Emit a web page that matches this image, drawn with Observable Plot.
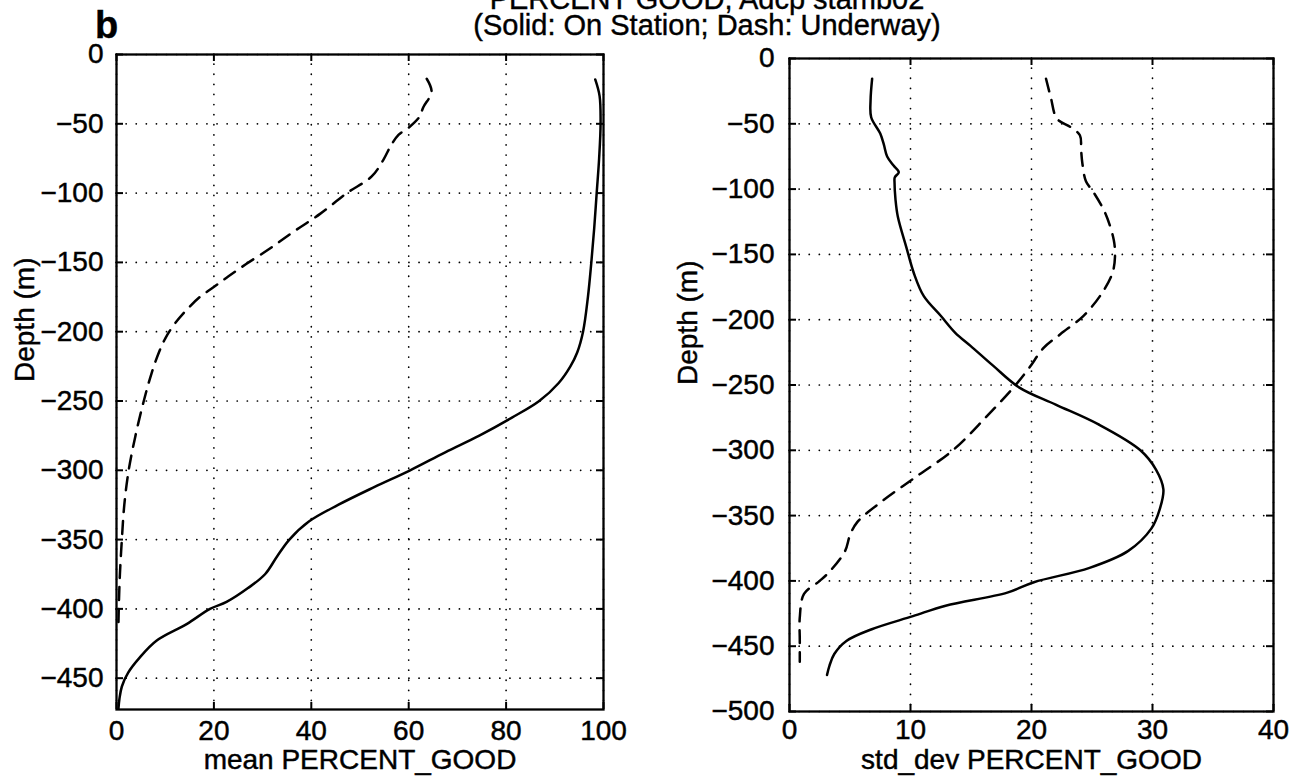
<!DOCTYPE html>
<html><head><meta charset="utf-8">
<script src="https://cdn.jsdelivr.net/npm/d3@7"></script>
<script src="https://cdn.jsdelivr.net/npm/@observablehq/plot@0.6"></script>
<style>
html,body{margin:0;padding:0;background:#fff;overflow:hidden}
#fig{position:relative;width:1299px;height:782px;overflow:hidden;font-family:"Liberation Sans",Arial,Helvetica,sans-serif;color:#000;background:#fff}
.plot{position:absolute;top:0}
.plot text{stroke:#000;stroke-width:0.45px}
.txt{position:absolute;white-space:nowrap;z-index:2;color:#000;-webkit-text-stroke:0.4px #000}
</style></head>
<body><div id="fig"></div>
<script>
// ---- text ----
const titleText = "PERCENT GOOD, Adcp stamb02";
const subtitleText = "(Solid: On Station; Dash: Underway)";
const panelLetter = "b";
const yLabel = "Depth (m)";
const xLabelMean = "mean PERCENT_GOOD";
const xLabelStd = "std_dev PERCENT_GOOD";

// ---- ticks ----
const xTicksMean = [0, 20, 40, 60, 80, 100];
const yTicksMean = [0, -50, -100, -150, -200, -250, -300, -350, -400, -450];
const xTicksStd = [0, 10, 20, 30, 40];
const yTicksStd = [0, -50, -100, -150, -200, -250, -300, -350, -400, -450, -500];

// ---- left panel: mean PERCENT_GOOD ----
const meanStationDepth = [-18, -30, -50, -75, -100, -125, -150, -175, -200, -215, -225, -237, -250, -262, -275, -287, -300, -312, -325, -337, -350, -362, -375, -385, -395, -400, -411, -423, -435, -446, -456, -465, -472];
const meanStationValue = [98.3, 99.2, 99.4, 99.1, 98.6, 98.1, 97.5, 96.8, 95.8, 94.6, 93.2, 90.8, 86.8, 81.2, 74.5, 67.5, 60.3, 53, 45.5, 39.5, 35.5, 33, 30.5, 27, 22.6, 19.2, 14.4, 8.2, 4.8, 2.4, 1.1, 0.6, 0.4];
const meanUnderwayDepth = [-17.5, -27, -38, -45, -52.5, -58, -66, -76, -88, -100, -115, -128, -140, -151, -160, -168, -175, -185, -195, -205, -215, -230, -250, -275, -300, -325, -350, -375, -395, -410];
const meanUnderwayValue = [63.7, 64.7, 63.0, 62.2, 60.1, 57.9, 56.3, 54.8, 52.4, 47.3, 41.8, 36.3, 31.5, 26.7, 23, 19.9, 17.1, 14.2, 11.8, 10, 8.7, 7.2, 5.6, 3.9, 2.5, 1.6, 1.1, 0.7, 0.5, 0.4];

// ---- right panel: std_dev PERCENT_GOOD ----
const stdStationDepth = [-15.5, -32, -45, -57.5, -66, -75, -82, -87, -91, -95, -108, -121, -145, -165, -182, -197, -210, -220, -235, -252, -265, -280, -300, -315, -330, -345, -360, -377, -390, -401, -409, -419, -427, -437, -446, -456, -465, -472];
const stdStationValue = [6.83, 6.7, 6.75, 7.5, 7.8, 8.07, 8.6, 9.03, 8.7, 8.68, 8.76, 8.95, 9.67, 10.3, 11.1, 12.5, 13.7, 14.96, 16.8, 19.0, 22.0, 25.5, 29.0, 30.3, 30.9, 30.6, 29.9, 28.0, 24.8, 20.2, 18.0, 12.9, 10.2, 6.8, 4.7, 3.7, 3.3, 3.1];
const stdUnderwayDepth = [-15.5, -30, -46, -52.4, -58.8, -70, -80, -94, -102, -118.5, -139, -151.7, -164, -180, -197, -211, -221.6, -237, -252, -275, -300, -320, -340, -355, -365, -377, -392, -400, -410, -428, -445, -462];
const stdUnderwayValue = [21.2, 21.6, 22.1, 23.2, 24.0, 24.1, 24.2, 24.5, 25.1, 26.1, 26.8, 26.9, 26.7, 25.8, 24.3, 22.4, 21.0, 19.8, 18.5, 16.2, 13.5, 10.5, 7.5, 5.6, 5.0, 4.6, 3.4, 2.5, 1.2, 0.85, 0.85, 0.85];

const rows = (depth, value) => depth.map((d, i) => ({depth: d, value: value[i]}));

const FONT = "'Liberation Sans', Arial, Helvetica, sans-serif";

function panel({width, ml, mr, mt, mb, xDomain, yDomain, xTicks, yTicks, station, underway, xLabel, xLabelDy, yLabelDx, yPad, xPad}) {
  const fw = width - ml - mr, fh = 782 - mt - mb, tk = 7;
  const grid = {stroke: "black", strokeOpacity: 1, strokeWidth: 1.7, strokeDasharray: "0.1,10", strokeLinecap: "round"};
  return Plot.plot({
    width, height: 782,
    marginLeft: ml, marginRight: mr, marginTop: mt, marginBottom: mb,
    style: {fontFamily: FONT, fontSize: "28px", color: "black", background: "transparent", overflow: "visible"},
    x: {domain: xDomain, ticks: xTicks, tickSize: 0, tickPadding: xPad, label: null},
    y: {domain: yDomain, ticks: yTicks, tickSize: 0, tickPadding: yPad, label: null},
    marks: [
      Plot.gridX(xTicks, grid),
      Plot.gridY(yTicks, grid),
      Plot.line(station, {x: "value", y: "depth", stroke: "black", strokeWidth: 2.5, curve: "catmull-rom"}),
      Plot.line(underway, {x: "value", y: "depth", stroke: "black", strokeWidth: 2.5, strokeDasharray: "13,9", curve: "catmull-rom"}),
      Plot.tickX(xTicks, {x: d => d, insetTop: fh - tk, stroke: "black", strokeWidth: 2}),
      Plot.tickX(xTicks, {x: d => d, insetBottom: fh - tk, stroke: "black", strokeWidth: 2}),
      Plot.tickY(yTicks, {y: d => d, insetRight: fw - tk, stroke: "black", strokeWidth: 2}),
      Plot.tickY(yTicks, {y: d => d, insetLeft: fw - tk, stroke: "black", strokeWidth: 2}),
      Plot.frame({stroke: "black", strokeWidth: 2.3}),
      Plot.text([xLabel], {frameAnchor: "bottom", dy: xLabelDy, fontSize: 28, fill: "black"}),
      Plot.text([yLabel], {frameAnchor: "left", rotate: -90, dx: yLabelDx, fontSize: 28, fill: "black"})
    ]
  });
}

const fig = document.getElementById("fig");

const left = panel({
  width: 650, ml: 116, mr: 47, mt: 54, mb: 73,
  xDomain: [0, 100], yDomain: [-472.6, 0],
  xTicks: xTicksMean, yTicks: yTicksMean,
  station: rows(meanStationDepth, meanStationValue),
  underway: rows(meanUnderwayDepth, meanUnderwayValue),
  xLabel: xLabelMean, xLabelDy: 59, yLabelDx: -91, yPad: 13, xPad: 11
});
left.classList.add("plot");
left.style.left = "0px";
fig.appendChild(left);

const right = panel({
  width: 649, ml: 139, mr: 26, mt: 58, mb: 71,
  xDomain: [0, 40], yDomain: [-500, 0],
  xTicks: xTicksStd, yTicks: yTicksStd,
  station: rows(stdStationDepth, stdStationValue),
  underway: rows(stdUnderwayDepth, stdUnderwayValue),
  xLabel: xLabelStd, xLabelDy: 57, yLabelDx: -101, yPad: 15, xPad: 8
});
right.classList.add("plot");
right.style.left = "650px";
fig.appendChild(right);

function addText(str, css) {
  const d = document.createElement("div");
  d.className = "txt";
  d.textContent = str;
  Object.assign(d.style, css);
  fig.appendChild(d);
}
addText(titleText, {left: "407px", width: "600px", textAlign: "center", top: "-13.5px", fontSize: "29px", lineHeight: "24px"});
addText(subtitleText, {left: "407px", width: "600px", textAlign: "center", top: "12.5px", fontSize: "29px", lineHeight: "24px"});
addText(panelLetter, {left: "95px", top: "12px", fontSize: "38px", lineHeight: "26px", fontWeight: "bold"});
</script>
</body></html>
